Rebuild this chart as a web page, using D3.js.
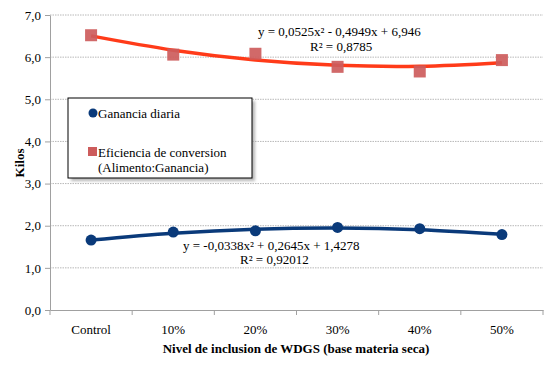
<!DOCTYPE html>
<html><head><meta charset="utf-8">
<script src="https://cdn.jsdelivr.net/npm/d3@7"></script>
<style>body{margin:0;background:#fff}svg{display:block}text{font-family:"Liberation Serif","Times New Roman",serif}</style>
</head><body><svg id="c" width="559" height="365"></svg>
<script>
const categories = ["Control","10%","20%","30%","40%","50%"];
const ganancia = [1.66,1.85,1.88,1.96,1.93,1.79];
const eficiencia = [6.52,6.06,6.08,5.77,5.66,5.93];
const gananciaTrend = [1.659,1.822,1.917,1.945,1.905,1.797];
const eficienciaTrend = [6.504,6.166,5.933,5.806,5.783,5.867];
const yTicks = [0,1,2,3,4,5,6,7];
const eq1 = ["y = 0,0525x² - 0,4949x + 6,946","R² = 0,8785"];
const eq2 = ["y = -0,0338x² + 0,2645x + 1,4278","R² = 0,92012"];

const svg = d3.select("#c");
const L=50,R=543,T=15,B=310;
const x = d3.scaleBand().domain(categories).range([L,R]);
const y = d3.scaleLinear().domain([0,7]).range([B,T]);
const fmt = d => d.toFixed(1).replace(".",",");

// gridlines
svg.append("g").selectAll("line").data(yTicks.filter(d=>d>0)).join("line")
  .attr("x1",L).attr("x2",R).attr("y1",d=>y(d)).attr("y2",d=>y(d))
  .attr("stroke","#b8b8b8").attr("stroke-width",1).attr("stroke-dasharray","1.5,1");

// y axis
const ya = svg.append("g").attr("transform",`translate(${L},0)`).call(d3.axisLeft(y).tickValues(yTicks).tickFormat(fmt).tickSize(5).tickSizeOuter(0));
ya.select(".domain").attr("stroke","#a0a0a0");
ya.selectAll(".tick line").attr("stroke","#a0a0a0");
ya.selectAll("text").attr("font-size",13).attr("fill","#000").attr("dx","-1").attr("font-family","Liberation Serif");

// x axis
const xa = svg.append("g").attr("transform",`translate(0,${B})`).call(d3.axisBottom(x).tickSize(0).tickSizeOuter(0));
xa.select(".domain").attr("stroke","#a0a0a0");
xa.selectAll("text").attr("font-size",13).attr("fill","#000").attr("dy","1.6em").attr("font-family","Liberation Serif");
const bounds = categories.map(c=>x(c)).concat([R]);
svg.append("g").selectAll("line").data(bounds).join("line")
  .attr("x1",d=>d).attr("x2",d=>d).attr("y1",B).attr("y2",B+5).attr("stroke","#a0a0a0");

// titles
svg.append("text").attr("x",296).attr("y",353).attr("text-anchor","middle").attr("font-weight","bold").attr("font-size",13)
  .text("Nivel de inclusion de WDGS (base materia seca)");
svg.append("text").attr("transform","translate(24,163) rotate(-90)").attr("text-anchor","middle").attr("font-weight","bold").attr("font-size",13).text("Kilos");

const cx = c => x(c)+x.bandwidth()/2;
const line = d3.line().x((d,i)=>cx(categories[i])).y(d=>y(d)).curve(d3.curveCatmullRom);

// red
svg.append("path").attr("d",line(eficienciaTrend)).attr("fill","none").attr("stroke","#ff2600").attr("stroke-width",3.5).attr("opacity",0.9);
svg.append("g").selectAll("rect").data(eficiencia).join("rect")
  .attr("x",(d,i)=>cx(categories[i])-6).attr("y",d=>y(d)-6).attr("width",12).attr("height",12)
  .attr("fill","#cd5c5c").attr("opacity",0.92);

// blue
svg.append("path").attr("d",line(gananciaTrend)).attr("fill","none").attr("stroke","#0a3a7a").attr("stroke-width",3.5);
svg.append("g").selectAll("circle").data(ganancia).join("circle")
  .attr("cx",(d,i)=>cx(categories[i])).attr("cy",d=>y(d)).attr("r",5.5).attr("fill","#0a3a7a");

// equations
svg.append("text").attr("x",258).attr("y",36).attr("font-size",13).text(eq1[0]);
svg.append("text").attr("x",310).attr("y",51).attr("font-size",13).text(eq1[1]);
svg.append("text").attr("x",183).attr("y",250).attr("font-size",13).text(eq2[0]);
svg.append("text").attr("x",240).attr("y",264).attr("font-size",13).text(eq2[1]);

// legend
const defs = svg.append("defs");
const f = defs.append("filter").attr("id","sh").attr("x","-10%").attr("y","-10%").attr("width","130%").attr("height","130%");
f.append("feGaussianBlur").attr("stdDeviation",1.5);
svg.append("rect").attr("x",71).attr("y",101).attr("width",184).attr("height",80).attr("fill","#999").attr("filter","url(#sh)").attr("opacity",0.7);
svg.append("rect").attr("x",68).attr("y",98).attr("width",184).attr("height",80).attr("fill","#fff").attr("stroke","#000").attr("stroke-width",1);
svg.append("circle").attr("cx",93).attr("cy",113).attr("r",4.5).attr("fill","#0a3a7a");
svg.append("text").attr("x",98).attr("y",118).attr("font-size",13).text("Ganancia diaria");
svg.append("rect").attr("x",88).attr("y",147).attr("width",9).attr("height",9).attr("fill","#cd5c5c");
svg.append("text").attr("x",98).attr("y",157).attr("font-size",13).text("Eficiencia de conversion");
svg.append("text").attr("x",98).attr("y",172).attr("font-size",13).text("(Alimento:Ganancia)");
</script></body></html>
